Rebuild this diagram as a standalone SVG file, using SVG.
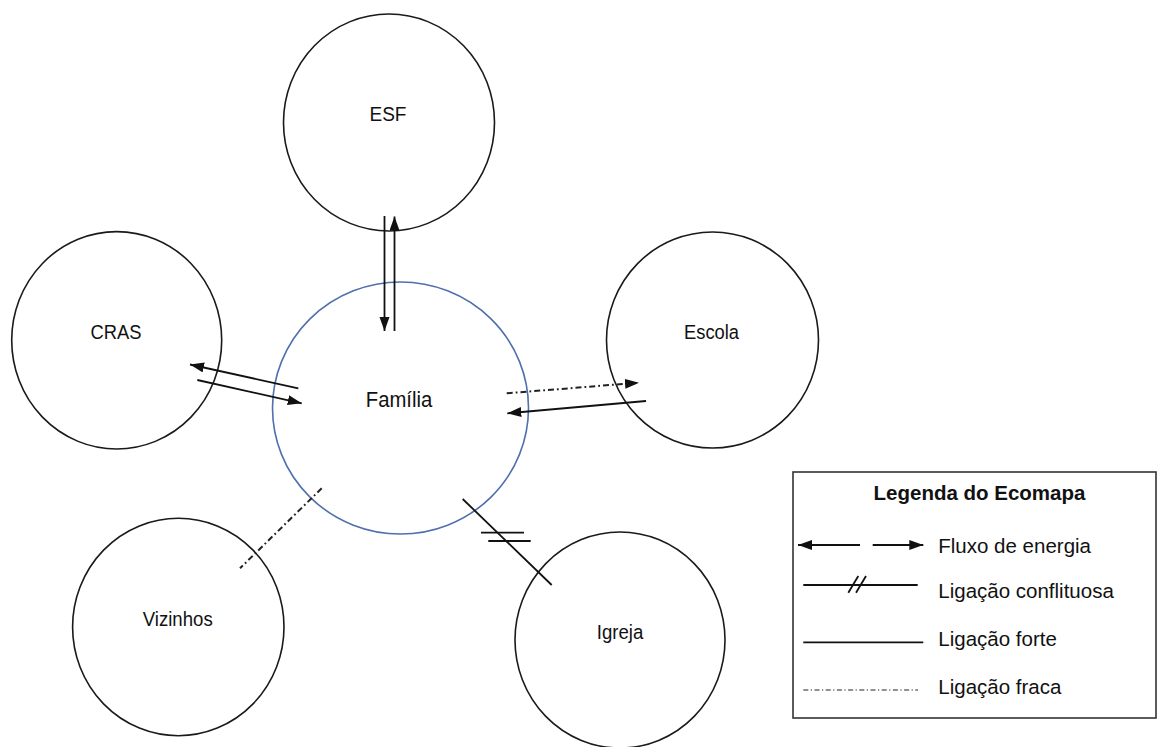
<svg xmlns="http://www.w3.org/2000/svg" width="1158" height="747" viewBox="0 0 1158 747">
<style>
.node{fill:#fff;stroke:#1a1a1a;stroke-width:1.6}
.fam{fill:#fff;stroke:#4f6fad;stroke-width:1.6}
.lbl{font-family:"Liberation Sans",Arial,sans-serif;font-size:20.5px;fill:#111;text-anchor:middle}
.lg{font-family:"Liberation Sans",Arial,sans-serif;font-size:20.5px;fill:#111}
.ln{stroke:#111;stroke-width:1.8;fill:none}
.dd{stroke:#222;stroke-width:2;fill:none;stroke-dasharray:6 3 1.8 3}
.ddl{stroke:#222;stroke-width:1.1;fill:none;stroke-dasharray:5 2.5 1.2 2.5}
</style>
<defs>
<marker id="ah" markerUnits="userSpaceOnUse" markerWidth="15" markerHeight="11" refX="14" refY="5" orient="auto" viewBox="0 0 15 11">
<path d="M0,0 L14,5 L0,10 z" fill="#111"/>
</marker>
</defs>
<rect width="1158" height="747" fill="#fff"/>
<g id="esf"><ellipse class="node" cx="389" cy="122.5" rx="105.5" ry="108.5"/><text class="lbl" x="388" y="120.5" textLength="37" lengthAdjust="spacingAndGlyphs">ESF</text></g>
<g id="cras"><ellipse class="node" cx="116.7" cy="340.3" rx="105" ry="108.7"/><text class="lbl" x="116" y="338.5" textLength="51" lengthAdjust="spacingAndGlyphs">CRAS</text></g>
<g id="escola"><ellipse class="node" cx="712.5" cy="340" rx="106" ry="108"/><text class="lbl" x="711.5" y="338.5" textLength="55" lengthAdjust="spacingAndGlyphs">Escola</text></g>
<g id="vizinhos"><ellipse class="node" cx="178.3" cy="627" rx="105.7" ry="108.7"/><text class="lbl" x="177.7" y="626" textLength="70" lengthAdjust="spacingAndGlyphs">Vizinhos</text></g>
<g id="igreja"><ellipse class="node" cx="620" cy="640" rx="105" ry="108"/><text class="lbl" x="620" y="639" textLength="46.5" lengthAdjust="spacingAndGlyphs">Igreja</text></g>
<g id="familia"><ellipse class="fam" cx="400.5" cy="408" rx="128" ry="126"/><text class="lbl" x="399" y="406.5" style="font-size:21.5px" textLength="66.5" lengthAdjust="spacingAndGlyphs">Família</text></g>
<g id="connectors">
<line class="ln" x1="384.5" y1="216" x2="384.5" y2="331" marker-end="url(#ah)"/>
<line class="ln" x1="394.5" y1="331" x2="394.5" y2="216.5" marker-end="url(#ah)"/>
<line class="ln" x1="298.3" y1="388.3" x2="190" y2="364.5" marker-end="url(#ah)"/>
<line class="ln" x1="197.3" y1="380" x2="301.7" y2="403.3" marker-end="url(#ah)"/>
<line class="dd" x1="506.7" y1="393.3" x2="639" y2="382.7" marker-end="url(#ah)"/>
<line class="ln" x1="646" y1="401" x2="507.3" y2="413.3" marker-end="url(#ah)"/>
<line class="dd" x1="321.7" y1="488.3" x2="240" y2="568.3"/>
<line class="ln" x1="462.7" y1="499" x2="551.7" y2="585"/>
<line class="ln" x1="481" y1="532.7" x2="524" y2="532.7"/>
<line class="ln" x1="488.3" y1="541" x2="530.7" y2="541"/>
</g>
<g id="legend">
<rect x="793" y="472" width="363" height="246" fill="#fff" stroke="#333" stroke-width="1.6"/>
<text class="lg" x="979.5" y="500" text-anchor="middle" font-weight="bold">Legenda do Ecomapa</text>
<line class="ln" x1="860" y1="545" x2="798" y2="545" marker-end="url(#ah)"/>
<line class="ln" x1="872.7" y1="545" x2="923.3" y2="545" marker-end="url(#ah)"/>
<text class="lg" x="938.3" y="553">Fluxo de energia</text>
<line class="ln" x1="803.3" y1="585" x2="917.7" y2="585" stroke-width="1.5"/>
<line class="ln" x1="848.3" y1="592.7" x2="858.3" y2="576" stroke-width="1.5"/>
<line class="ln" x1="856" y1="592.7" x2="866" y2="576" stroke-width="1.5"/>
<text class="lg" x="938.3" y="598">Ligação conflituosa</text>
<line class="ln" x1="803.3" y1="642.3" x2="923.3" y2="642.3" stroke-width="1.5"/>
<text class="lg" x="938.3" y="646">Ligação forte</text>
<line class="ddl" x1="803.3" y1="690" x2="918" y2="690"/>
<text class="lg" x="938.3" y="694">Ligação fraca</text>
</g>
</svg>
